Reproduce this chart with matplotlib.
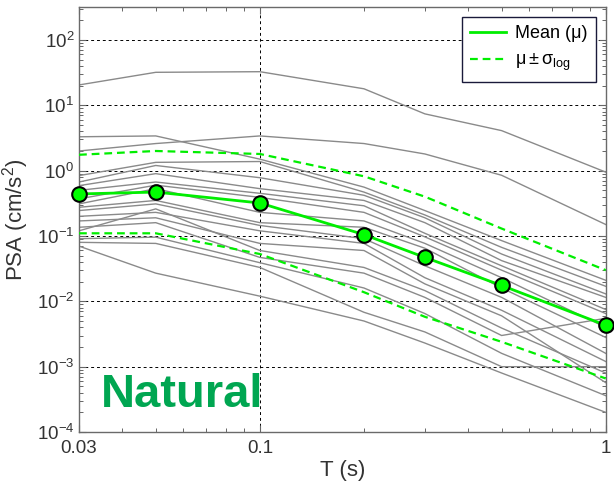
import numpy as np
import matplotlib
matplotlib.use("Agg")
import matplotlib.pyplot as plt
from matplotlib.lines import Line2D
from matplotlib.ticker import (LogLocator, FixedLocator, FixedFormatter,
                               NullFormatter, LogFormatterMathtext)

plt.rcParams['font.family'] = ['Liberation Sans', 'DejaVu Sans']
plt.rcParams['mathtext.fontset'] = 'custom'
plt.rcParams['mathtext.rm'] = 'Liberation Sans'
plt.rcParams['mathtext.it'] = 'Liberation Sans:italic'
plt.rcParams['mathtext.default'] = 'regular'

# Spectral periods (s)
periods = [0.03, 0.05, 0.1, 0.2, 0.3, 0.5, 1.0]

# Pseudo-spectral acceleration of individual records (cm/s^2)
rec01 = [20.5, 32.0, 32.7, 17.9, 7.4, 4.1, 0.95]
rec02 = [2.0, 2.6, 3.4, 2.6, 1.8, 0.85, 0.15]
rec03 = [3.3, 3.4, 1.5, 0.56, 0.245, 0.085, 0.021]
rec04 = [0.84, 1.34, 1.38, 0.47, 0.21, 0.067, 0.017]
rec05 = [0.67, 1.2, 0.78, 0.42, 0.19, 0.053, 0.013]
rec06 = [0.59, 0.9, 0.53, 0.35, 0.16, 0.042, 0.0115]
rec07 = [0.50, 0.67, 0.45, 0.29, 0.11, 0.035, 0.0075]
rec08 = [0.37, 0.6, 0.39, 0.23, 0.097, 0.030, 0.0065]
rec09 = [0.31, 0.53, 0.23, 0.17, 0.077, 0.023, 0.004]
rec10 = [0.275, 0.35, 0.16, 0.136, 0.065, 0.016, 0.0028]
rec11 = [0.245, 0.31, 0.145, 0.091, 0.035, 0.0115, 0.0016]
rec12 = [0.20, 0.23, 0.12, 0.077, 0.023, 0.0073, 0.0012]
rec13 = [0.17, 0.19, 0.077, 0.06, 0.0185, 0.006, 0.00057]
rec14 = [0.12, 0.26, 0.06, 0.033, 0.0146, 0.0039, 0.0008]
rec15 = [0.136, 0.16, 0.047, 0.027, 0.0115, 0.003, 0.0055]
rec16 = [0.091, 0.096, 0.039, 0.016, 0.0065, 0.0016, 0.00036]
rec17 = [0.08, 0.077, 0.033, 0.0068, 0.0034, 0.001, 0.001]
rec18 = [0.07, 0.027, 0.012, 0.005, 0.0023, 0.0008, 0.0002]
records = [rec01, rec02, rec03, rec04, rec05, rec06, rec07, rec08, rec09,
           rec10, rec11, rec12, rec13, rec14, rec15, rec16, rec17, rec18]

# Log-mean spectrum and +/- one log standard deviation
psa_mean = [0.44, 0.47, 0.32, 0.105, 0.047, 0.0175, 0.0043]
psa_plus = [1.75, 2.0, 1.8, 0.82, 0.40, 0.13, 0.030]
psa_minus = [0.11, 0.11, 0.053, 0.0138, 0.0058, 0.0024, 0.00066]

xtick_vals = [0.03, 0.1, 1]
xtick_text = ['0.03', '0.1', '1']
ytick_vals = [1e-4, 1e-3, 1e-2, 1e-1, 1e0, 1e1, 1e2]

fig = plt.figure(figsize=(6.14, 4.87), dpi=100)
ax = fig.add_axes([0.1287, 0.1129, 0.8578, 0.8721])

for rec in records:
    ax.plot(periods, rec, color='#8a8a8a', lw=1.0, zorder=2)

green = '#00EE00'
dash = (0, (3.5, 2.2))
ax.plot(periods, psa_plus, color=green, lw=1.6, ls=dash, zorder=3)
ax.plot(periods, psa_minus, color=green, lw=1.6, ls=dash, zorder=3)
ax.plot(periods, psa_mean, color=green, lw=2.0, zorder=4)
ax.plot(periods, psa_mean, ls='none', marker='o', ms=10.5, mfc='#00FF00',
        mec='black', mew=1.5, zorder=5, clip_on=False)

ax.set_xscale('log')
ax.set_yscale('log')
ax.set_xlim(0.03, 1)
ax.set_ylim(1e-4, 10 ** 2.5)

ax.xaxis.set_major_locator(FixedLocator(xtick_vals))
ax.xaxis.set_major_formatter(FixedFormatter(xtick_text))
ax.xaxis.set_minor_locator(LogLocator(base=10, subs=np.arange(2, 10), numticks=20))
ax.xaxis.set_minor_formatter(NullFormatter())
ax.yaxis.set_major_locator(FixedLocator(ytick_vals))
ax.yaxis.set_major_formatter(LogFormatterMathtext())
ax.yaxis.set_minor_locator(LogLocator(base=10, subs=np.arange(2, 10), numticks=20))
ax.yaxis.set_minor_formatter(NullFormatter())

ax.tick_params(which='both', direction='in', top=True, right=True,
               colors='#666666', labelcolor='#333333', labelsize=13.5)
ax.tick_params(which='major', length=5, width=0.8)
ax.tick_params(which='minor', length=3, width=0.7)
ax.tick_params(axis='x', pad=6)

for sp in ax.spines.values():
    sp.set_color('#6a6a6a')
    sp.set_linewidth(1.0)

ax.grid(True, which='major', color='black', lw=0.7, ls=(0, (3, 3)))

ax.set_xlabel('T (s)', fontsize=16, color='#333333', labelpad=2)
ax.set_ylabel(r'PSA (cm/s$^{2}$)', fontsize=16, color='#333333', labelpad=4)

handles = [Line2D([], [], color=green, lw=2.0),
           Line2D([], [], color=green, lw=1.6, ls=dash)]
leg = ax.legend(handles, ['Mean (\u03bc)', r'$\mu \pm \sigma_{\rm log}$'],
                loc='upper right', fontsize=13, frameon=True, fancybox=False,
                edgecolor='#1a1a3a', framealpha=1, borderaxespad=0.55,
                handlelength=2.0, handletextpad=0.5, borderpad=0.45,
                labelspacing=0.55)
leg.get_frame().set_linewidth(1.0)

ax.text(0.042, 0.06, 'Natural', transform=ax.transAxes, fontsize=34,
        fontweight='bold', color='#00A651', ha='left', va='baseline', zorder=6)

fig.savefig('out.png', dpi=100)
